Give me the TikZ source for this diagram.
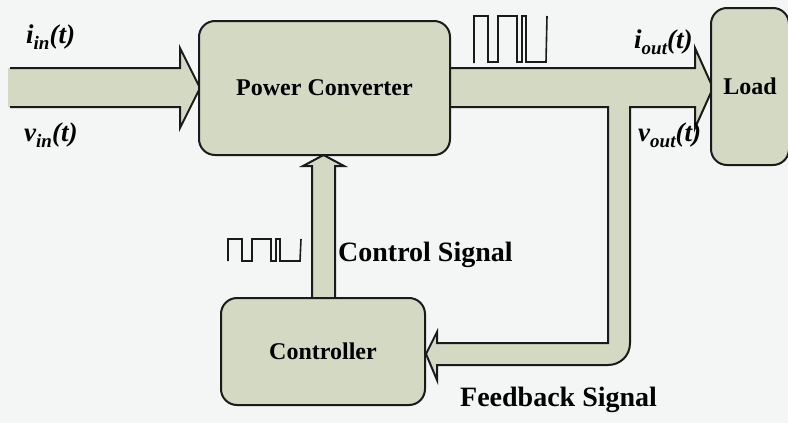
\documentclass[tikz,border=0pt]{standalone}
\usepackage{fontspec}
\setmainfont{Liberation Serif}
\definecolor{bgc}{HTML}{F4F5F5}
\definecolor{boxc}{HTML}{D4D9C4}
\definecolor{linec}{HTML}{1A1A1A}
\newcommand\mysub[1]{\raisebox{-0.22em}{\fontsize{19}{19}\selectfont #1}}
\begin{document}
\begin{tikzpicture}[x=1pt,y=-1pt,
  blk/.style={draw=linec,line width=2pt,fill=boxc,rounded corners=16pt},
  fat/.style={fill=boxc},
  edge/.style={draw=linec,line width=2pt,line join=miter},
  wave/.style={draw=linec,line width=1.6pt},
  lbl/.style={font=\bfseries\fontsize{24}{26}\selectfont,inner sep=0pt},
  big/.style={font=\bfseries\fontsize{28}{30}\selectfont,inner sep=0pt,anchor=west},
  sig/.style={font=\bfseries\itshape\fontsize{27}{29}\selectfont,inner sep=0pt,anchor=west}]
\fill[bgc] (0,0) rectangle (788,423);
\useasboundingbox (0,0) rectangle (788,423);
% input arrow
\fill[boxc] (8,68) -- (180,68) -- (180,48) -- (200,88) -- (180,128) -- (180,107) -- (8,107) -- cycle;
\draw[edge] (10,68) -- (180,68) -- (180,48) -- (200,88) -- (180,128) -- (180,107) -- (10,107);
% output arrow with feedback branch
\path[fat] (440,68) -- (695,68) -- (695,48) -- (713,88) -- (695,128) -- (695,107) -- (630,107)
  -- (630,343) .. controls (630,356) and (620,365) .. (608,365) -- (437,365) -- (437,380)
  -- (426,354) -- (437,332) -- (437,343) -- (608,343) -- (608,107) -- (440,107) -- cycle;
\draw[edge] (440,68) -- (695,68) -- (695,48) -- (713,88) -- (695,128) -- (695,107) -- (630,107)
  -- (630,343) .. controls (630,356) and (620,365) .. (608,365) -- (437,365) -- (437,380)
  -- (426,354) -- (437,332) -- (437,343) -- (608,343) -- (608,107) -- (440,107);
% control arrow
\path[fat] (312,300) -- (312,166) -- (303,166) -- (323.5,155) -- (344,166) -- (335,166) -- (335,300) -- cycle;
\draw[edge] (312,300) -- (312,166) -- (303,166) -- (323.5,155) -- (344,166) -- (335,166) -- (335,300);
% blocks
\node[blk,minimum width=251pt,minimum height=134pt,lbl] (pc) at (324.5,88) {Power Converter};
\node[blk,minimum width=78pt,minimum height=157pt,lbl] (load) at (750,86.5) {Load};
\node[blk,minimum width=204pt,minimum height=107pt,lbl] (ctrl) at (323,351.5) {Controller};
% waveforms
\draw[wave] (474,63) -- (474,16) -- (488,16) -- (488,62) -- (498,62) -- (498,16) -- (517,16) -- (517,62)
  -- (522,62) -- (522,16) -- (526,16) -- (526,62) -- (546,62) -- (547,16);
\draw[wave] (228,261) -- (228,239) -- (242,239) -- (242,261) -- (252,261) -- (252,239) -- (271,239) -- (271,261)
  -- (276,261) -- (276,239) -- (280,239) -- (280,261) -- (300,261) -- (301,239);
% labels
\node[sig] (iin) at (26,37) {i\mysub{in}(t)};
\node[sig] (vin) at (24,135) {v\mysub{in}(t)};
\node[sig] (iout) at (634,42) {i\mysub{out}(t)};
\node[sig] (vout) at (638,135) {v\mysub{out}(t)};
\node[big] (cs) at (338,255) {Control Signal};
\node[big] (fs) at (460,400) {Feedback Signal};
\end{tikzpicture}
\end{document}
